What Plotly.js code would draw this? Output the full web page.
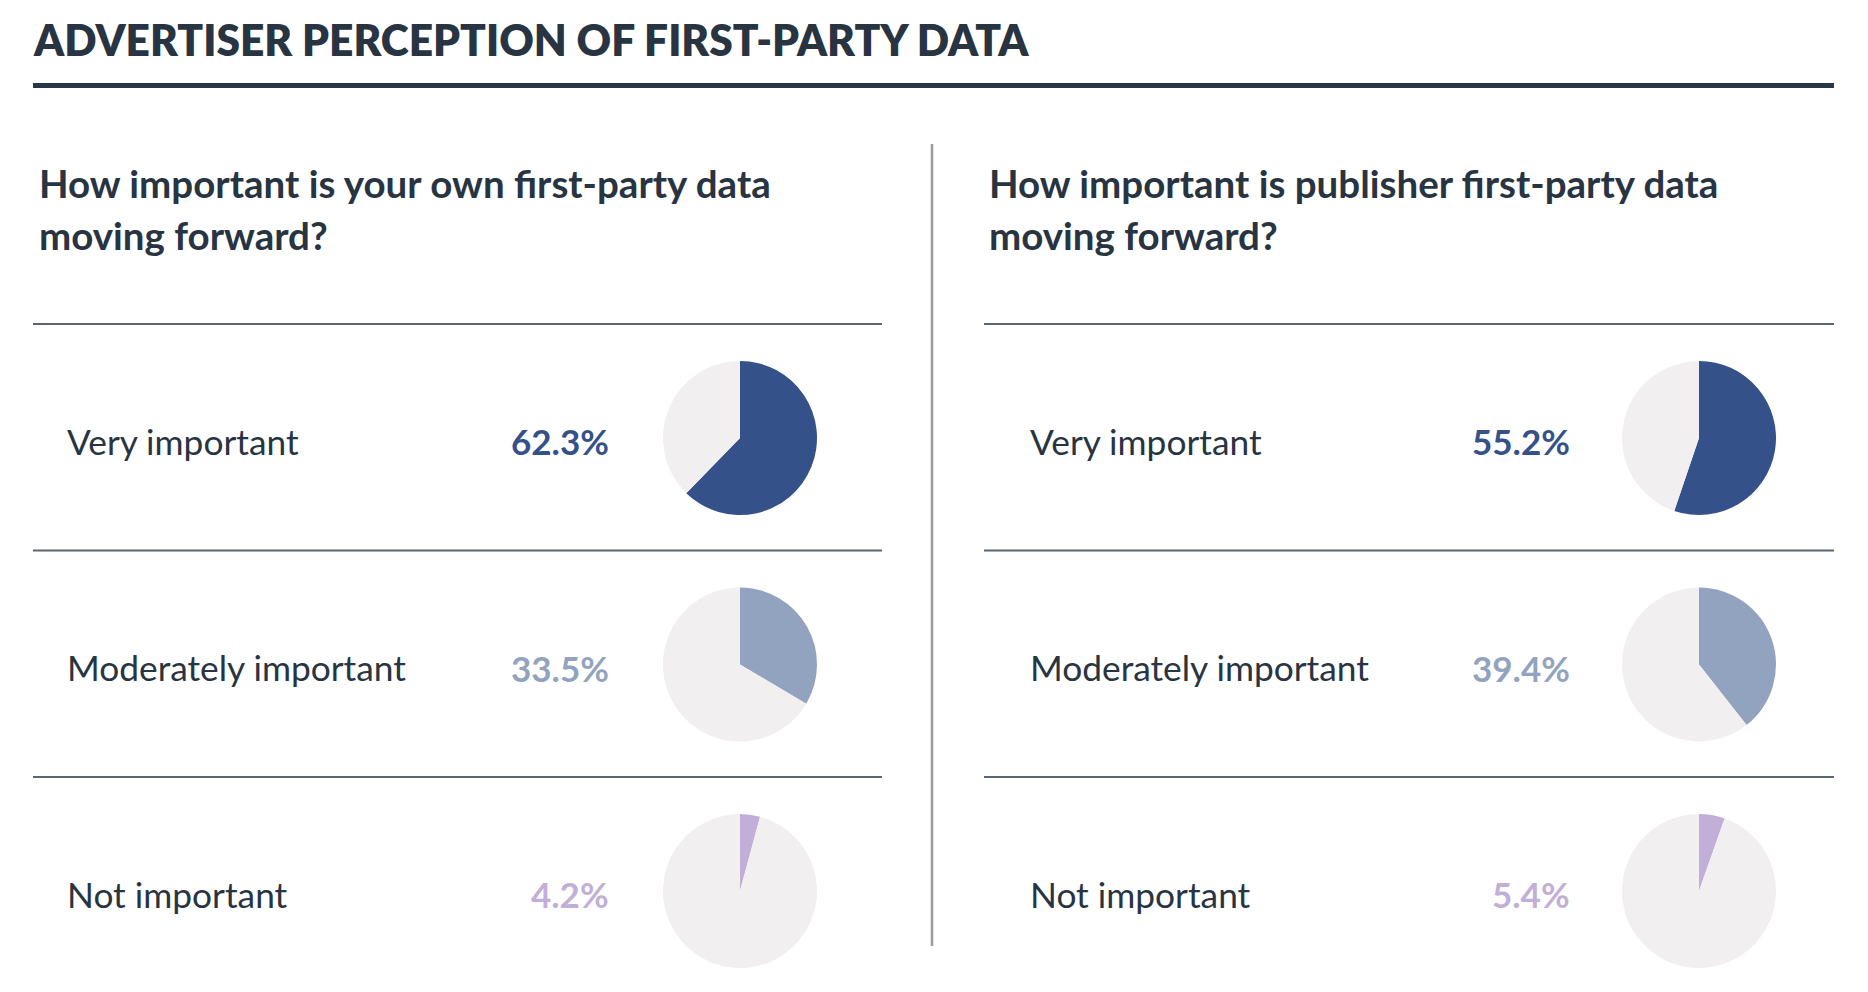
<!DOCTYPE html>
<html>
<head>
<meta charset="utf-8">
<script src="https://cdn.plot.ly/plotly-3.0.1.min.js"></script>
<style>
html,body{margin:0;padding:0;background:#fff;}
#chart{width:1868px;height:992px;}
</style>
</head>
<body>
<div id="chart"></div>
<script>
// ---- data ----
const chartTitle = 'ADVERTISER PERCEPTION OF FIRST-PARTY DATA';
const categories = ['Very important', 'Moderately important', 'Not important'];
const ownValues = [62.3, 33.5, 4.2];
const publisherValues = [55.2, 39.4, 5.4];
const ownQuestion = ['How important is your own first-party data', 'moving forward?'];
const publisherQuestion = ['How important is publisher first-party data', 'moving forward?'];
const sliceColors = ['#34518a', '#92a3c0', '#c2afd8'];
const restColor = '#f1eff0';

// ---- layout helpers (pixel -> paper) ----
const W = 1868, H = 992;
const px = x => x / W;
const py = y => 1 - y / H;
const FONT = 'Lato, "Open Sans", Roboto, sans-serif';
const TEXT = '#283442';

const panels = [
  {values: ownValues, question: ownQuestion, qx: 37, lx: 65, vx: 611, cx: 740, lineX: [33, 882]},
  {values: publisherValues, question: publisherQuestion, qx: 987, lx: 1028, vx: 1572, cx: 1699, lineX: [984, 1834]}
];
const rowTop = 324, rowStep = 226.5, pieOffset = 114, pieR = 77;

const traces = [];
const annotations = [];
const shapes = [];

annotations.push({
  text: chartTitle, x: px(31), y: py(40), xref: 'paper', yref: 'paper',
  xanchor: 'left', yanchor: 'middle', showarrow: false,
  font: {family: FONT, size: 42.5, color: TEXT, weight: 800}
});
shapes.push({type: 'rect', xref: 'paper', yref: 'paper', x0: px(33), x1: px(1834), y0: py(83), y1: py(88),
  fillcolor: '#2a3644', line: {width: 0}});
shapes.push({type: 'line', xref: 'paper', yref: 'paper', x0: px(932), x1: px(932), y0: py(144), y1: py(946),
  line: {color: '#9b9b9b', width: 2.5}});

panels.forEach((p, pi) => {
  p.question.forEach((q, qi) => {
    annotations.push({
      text: q, x: px(p.qx), y: py(183 + qi * 52), xref: 'paper', yref: 'paper',
      xanchor: 'left', yanchor: 'middle', showarrow: false,
      font: {family: FONT, size: 38.5, color: TEXT, weight: 700}
    });
  });
  categories.forEach((c, ci) => {
    const top = rowTop + ci * rowStep;
    shapes.push({type: 'line', xref: 'paper', yref: 'paper', x0: px(p.lineX[0]), x1: px(p.lineX[1]),
      y0: py(top), y1: py(top), line: {color: '#5c6670', width: 2}});
    const cy = top + pieOffset;
    annotations.push({
      text: c, x: px(p.lx), y: py(cy + 3), xref: 'paper', yref: 'paper',
      xanchor: 'left', yanchor: 'middle', showarrow: false,
      font: {family: FONT, size: 35.3, color: TEXT, weight: 400}
    });
    annotations.push({
      text: p.values[ci].toFixed(1) + '%', x: px(p.vx), y: py(cy + 3), xref: 'paper', yref: 'paper',
      xanchor: 'right', yanchor: 'middle', showarrow: false,
      font: {family: FONT, size: 35, color: sliceColors[ci], weight: 700}
    });
    traces.push({
      type: 'pie',
      values: [p.values[ci], 100 - p.values[ci]],
      labels: [c, 'Other'],
      marker: {colors: [sliceColors[ci], restColor], line: {width: 0}},
      sort: false, direction: 'clockwise', rotation: 0,
      textinfo: 'none', hoverinfo: 'none', showlegend: false,
      domain: {x: [px(p.cx - pieR), px(p.cx + pieR)], y: [py(cy + pieR), py(cy - pieR)]}
    });
  });
});

Plotly.newPlot('chart', traces, {
  width: W, height: H,
  margin: {l: 0, r: 0, t: 0, b: 0},
  paper_bgcolor: '#ffffff', plot_bgcolor: '#ffffff',
  showlegend: false,
  annotations: annotations,
  shapes: shapes
}, {displayModeBar: false, staticPlot: true});
</script>
</body>
</html>
